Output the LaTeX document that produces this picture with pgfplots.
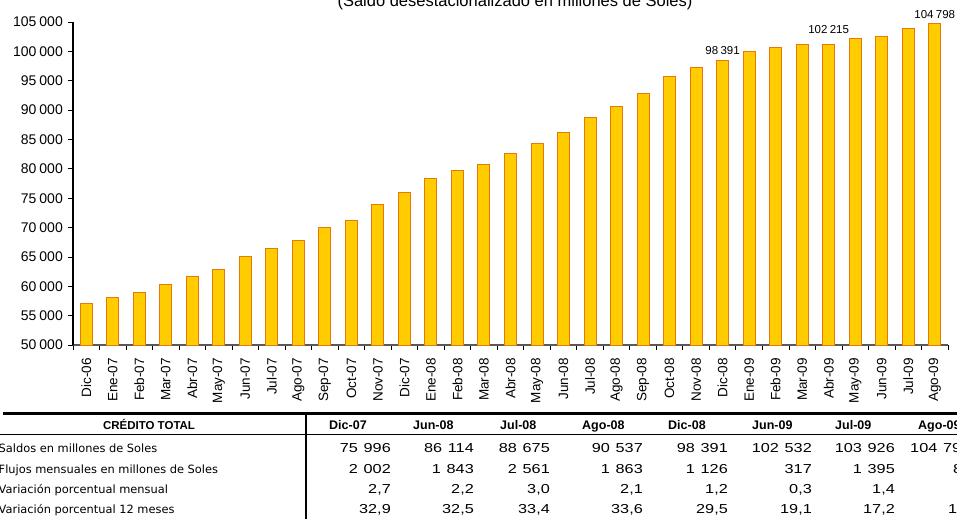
\documentclass[border=0pt]{standalone}
\usepackage{pgfplots}
\pgfplotsset{compat=1.18}
\usepackage{fontspec}
\setmainfont{Liberation Sans}
\newfontfamily\tahoma{DejaVu Sans}
\definecolor{barfill}{HTML}{FFCC00}
\definecolor{baredge}{HTML}{E8770C}
\newcommand\px[1]{\fontsize{#1pt}{#1pt}\selectfont}
% wide digits of the table below the chart
\newcommand\tn[1]{\scalebox{1.25}[1]{\px{13}#1}}
\newcommand\sep{\hspace{0.35em}}
\newcommand\ts{\hspace{0.22em}}

\pgfplotstableread{
x  y
0  57100
1  58060
2  58860
3  60330
4  61690
5  62830
6  65100
7  66460
8  67770
9  70040
10 71120
11 73960
12 75996
13 78390
14 79630
15 80820
16 82580
17 84350
18 86114
19 88675
20 90537
21 92860
22 95700
23 97290
24 98391
25 99900
26 100630
27 101210
28 101230
29 102215
30 102532
31 103926
32 104798
}\saldos

\begin{document}
\begin{tikzpicture}
\useasboundingbox (0pt,0pt) rectangle (957pt,-519pt);
\clip (0pt,0pt) rectangle (957pt,-519pt);

\node[anchor=base, inner sep=0pt, font=\px{16.5}] at (515pt,-7pt)
  {(Saldo desestacionalizado en millones de Soles)};

\begin{axis}[
  at={(73pt,-345pt)}, anchor=south west,
  scale only axis, width=875pt, height=323pt,
  xmin=-0.5, xmax=32.5, ymin=50000, ymax=105000,
  ybar, bar width=12pt,
  clip mode=individual,
  axis lines*=left,
  y axis line style={black, line width=2pt},
  x axis line style={black!65, line width=1.3pt},
  tick align=outside,
  major tick length=5pt, minor tick length=5pt,
  tick style={black, line width=0.8pt},
  major x tick style={draw=none},
  xtick={0,...,32},
  minor xtick={-0.5,0.5,...,32.5},
  xticklabels={Dic-06,Ene-07,Feb-07,Mar-07,Abr-07,May-07,Jun-07,Jul-07,Ago-07,Sep-07,Oct-07,Nov-07,
    Dic-07,Ene-08,Feb-08,Mar-08,Abr-08,May-08,Jun-08,Jul-08,Ago-08,Sep-08,Oct-08,Nov-08,
    Dic-08,Ene-09,Feb-09,Mar-09,Abr-09,May-09,Jun-09,Jul-09,Ago-09},
  xticklabel style={font=\px{13.5}, rotate=90, anchor=east, inner sep=0pt, xshift=-8pt},
  ytick={50000,55000,60000,65000,70000,75000,80000,85000,90000,95000,100000,105000},
  yticklabels={50\ts000,55\ts000,60\ts000,65\ts000,70\ts000,75\ts000,80\ts000,85\ts000,
    90\ts000,95\ts000,100\ts000,105\ts000},
  scaled y ticks=false,
  yticklabel style={font=\px{14}, anchor=east, inner sep=0pt, xshift=-5pt},
]
\addplot[fill=barfill, draw=baredge, line width=1pt] table[x=x, y=y] {\saldos};
\node[anchor=base, inner sep=0pt, font=\px{11.5}, yshift=6pt] at (axis cs:24,98391) {98\hspace{0.2em}391};
\node[anchor=base, inner sep=0pt, font=\px{11.5}, yshift=5pt] at (axis cs:28,102215) {102\hspace{0.2em}215};
\node[anchor=base, inner sep=0pt, font=\px{11.5}, yshift=4.5pt] at (axis cs:32,104798) {104\hspace{0.2em}798};
\end{axis}

% table below the chart
\draw[line width=2.2pt] (3pt,-413.5pt) -- (957pt,-413.5pt);
\draw[line width=0.8pt] (0pt,-434pt) -- (957pt,-434pt);
\draw[line width=1.5pt] (306pt,-413pt) -- (306pt,-519pt);

\begin{scope}[every node/.style={inner sep=0pt}]
\node[anchor=base, font=\bfseries\px{11.5}] at (149pt,-429pt) {CRÉDITO TOTAL};
\foreach \l/\t in {329/Dic-07,413/Jun-08,500/Jul-08,582/Ago-08,668/Dic-08,752/Jun-09,835/Jul-09,918/Ago-09}
  \node[anchor=base west, font=\bfseries\px{12.5}] at (\l pt,-429pt) {\t};

\node[anchor=base west, font=\tahoma\px{11.4}] at (-1.5pt,-452pt) {Saldos en millones de Soles};
\node[anchor=base west, font=\tahoma\px{11.4}] at (-1.5pt,-473.5pt) {Flujos mensuales en millones de Soles};
\node[anchor=base west, font=\tahoma\px{11.4}] at (-1.5pt,-493.5pt) {Variación porcentual mensual};
\node[anchor=base west, font=\tahoma\px{11.4}] at (-1.5pt,-513pt) {Variación porcentual 12 meses};

\foreach \r/\a/\b/\c/\d in {391/{75\sep996}/{2\sep002}/{2,7}/{32,9}, 474/{86\sep114}/{1\sep843}/{2,2}/{32,5},
    550/{88\sep675}/{2\sep561}/{3,0}/{33,4}, 643/{90\sep537}/{1\sep863}/{2,1}/{33,6},
    728/{98\sep391}/{1\sep126}/{1,2}/{29,5}, 812/{102\sep532}/{317}/{0,3}/{19,1},
    895/{103\sep926}/{1\sep395}/{1,4}/{17,2}}{
  \node[anchor=base east] at (\r pt,-452pt) {\tn{\a}};
  \node[anchor=base east] at (\r pt,-473.5pt) {\tn{\b}};
  \node[anchor=base east] at (\r pt,-493.5pt) {\tn{\c}};
  \node[anchor=base east] at (\r pt,-513pt) {\tn{\d}};
}
\node[anchor=base west] at (910pt,-452pt) {\tn{104\sep798}};
\node[anchor=base west] at (953pt,-473.5pt) {\tn{872}};
\node[anchor=base west] at (958pt,-493.5pt) {\tn{0,8}};
\node[anchor=base west] at (948pt,-513pt) {\tn{15,8}};
\end{scope}
\end{tikzpicture}
\end{document}
